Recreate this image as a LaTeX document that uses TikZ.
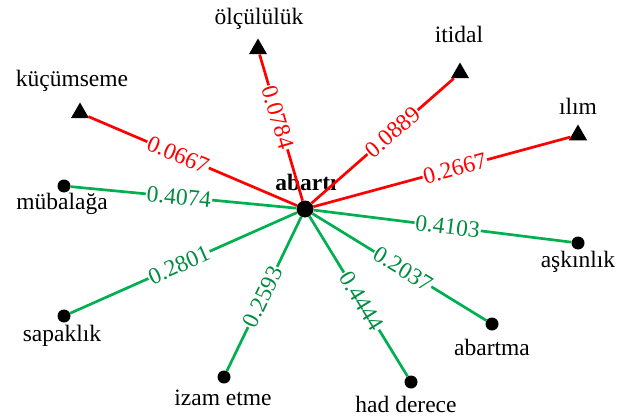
\documentclass[tikz,border=0pt]{standalone}
\usepackage{fontspec}
\setmainfont{Liberation Serif}
\newfontfamily\lser{Liberation Serif}
\usetikzlibrary{shapes.geometric}
\definecolor{lred}{RGB}{255,0,0}
\definecolor{lgreen}{RGB}{0,176,80}
\definecolor{tgreen}{RGB}{0,140,65}
\begin{document}
\begin{tikzpicture}[x=1pt,y=-1pt,
  txt/.style={font=\lser\fontsize{23.5}{26}\selectfont, inner sep=1pt},
  nlbl/.style={txt, anchor=base},
  tri/.style={regular polygon, regular polygon sides=3, fill=black, inner sep=0pt, minimum size=21pt},
  dot/.style={circle, fill=black, inner sep=0pt, minimum size=13pt},
  hub/.style={circle, fill=black, inner sep=0pt, minimum size=17pt},
  redge/.style={draw=lred, line width=2.7pt},
  gedge/.style={draw=lgreen, line width=2.7pt},
  rlab/.style={txt, text=lred, fill=white, sloped, pos=0.57},
  glab/.style={txt, text=tgreen, fill=white, sloped, pos=0.52}]
\useasboundingbox (0,0) rectangle (618,417);

% hub
\node[hub] (c) at (305,209) {};
\node[nlbl, font=\lser\fontsize{23.5}{26}\selectfont\bfseries] (cL) at (306,190) {abartı};

% triangles
\node[tri] (t1) at (80,113) {};
\node[tri] (t2) at (258,49) {};
\node[tri] (t3) at (460,73) {};
\node[tri] (t4) at (578,135) {};
\node[nlbl] (t1L) at (72,87) {küçümseme};
\node[nlbl] (t2L) at (259,25) {ölçülülük};
\node[nlbl] (t3L) at (459,43) {itidal};
\node[nlbl] (t4L) at (578,115) {ılım};

% dots
\node[dot] (d1) at (64,186) {};
\node[dot] (d2) at (64,316) {};
\node[dot] (d3) at (224,377) {};
\node[dot] (d4) at (411,382) {};
\node[dot] (d5) at (492,324) {};
\node[dot] (d6) at (578,243) {};
\node[nlbl] (d1L) at (62,209) {mübalağa};
\node[nlbl] (d2L) at (62,341) {sapaklık};
\node[nlbl] (d3L) at (223,405) {izam etme};
\node[nlbl] (d4L) at (406,412) {had derece};
\node[nlbl] (d5L) at (492,355) {abartma};
\node[nlbl] (d6L) at (578,267) {aşkınlık};

% red edges
\draw[redge] (c) -- node[rlab] {0.0667} (t1);
\draw[redge] (c) -- node[rlab] {0.0784} (t2);
\draw[redge] (c) -- node[rlab] {0.0889} (t3);
\draw[redge] (c) -- node[rlab, pos=0.55] {0.2667} (t4);

% green edges
\draw[gedge] (c) -- node[glab] {0.4074} (d1);
\draw[gedge] (c) -- node[glab] {0.2801} (d2);
\draw[gedge] (c) -- node[glab] {0.2593} (d3);
\draw[gedge] (c) -- node[glab, pos=0.53] {0.4444} (d4);
\draw[gedge] (c) -- node[glab] {0.2037} (d5);
\draw[gedge] (c) -- node[glab] {0.4103} (d6);
\end{tikzpicture}
\end{document}
